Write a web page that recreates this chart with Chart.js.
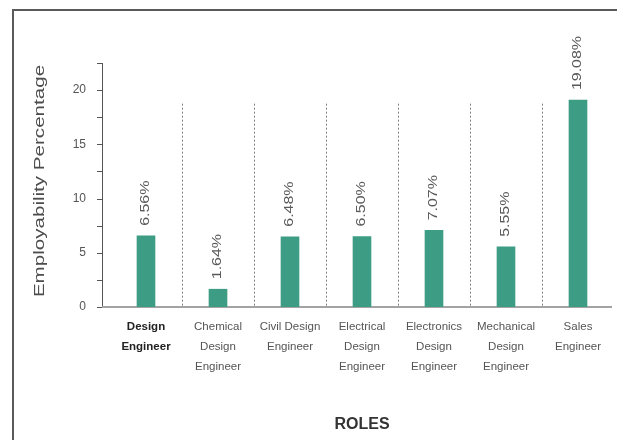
<!DOCTYPE html>
<html>
<head>
<meta charset="utf-8">
<title>Employability por rol</title>
<script src="https://cdn.jsdelivr.net/npm/chart.js@4.4.1/dist/chart.umd.min.js"></script>
<style>
    html, body { margin: 0; padding: 0; background: #fff; }
    #marco {
        position: absolute; left: 12px; top: 9px; width: 605px; height: 431px;
        border-left: 2px solid #5a5a5a; border-top: 2px solid #5a5a5a; box-sizing: border-box;
    }
    #grafico { position: absolute; left: 0; top: 0; }
</style>
</head>
<body>
<div id="marco"></div>
<canvas id="grafico" width="617" height="440"></canvas>
<script>
// datos del grafico
const roles = [
    ['Design', 'Engineer'],
    ['Chemical', 'Design', 'Engineer'],
    ['Civil Design', 'Engineer'],
    ['Electrical', 'Design', 'Engineer'],
    ['Electronics', 'Design', 'Engineer'],
    ['Mechanical', 'Design', 'Engineer'],
    ['Sales', 'Engineer']
];
const employability = [6.56, 1.64, 6.48, 6.50, 7.07, 5.55, 19.08];
const yTickLabels = [0, 5, 10, 15, 20];
const yMax = 22.5;
const yStep = 2.5;

const fuente = '"Liberation Sans", Arial, sans-serif';
const separadorTope = 18.75; // donde empiezan las lineas punteadas

// ejes, separadores y etiquetas giradas
const ejesPlugin = {
    id: 'ejes',
    beforeDatasetsDraw(chart) {
        const { ctx, chartArea, scales: { x, y } } = chart;
        const ejeX = chartArea.left - 8;
        const y0 = y.getPixelForValue(0);
        ctx.save();

        // separadores punteados entre categorias
        ctx.strokeStyle = '#808080';
        ctx.lineWidth = 1;
        ctx.setLineDash([2, 2]);
        for (let i = 1; i < roles.length; i++) {
            const px = Math.round((x.getPixelForValue(i - 1) + x.getPixelForValue(i)) / 2) + 0.5;
            ctx.beginPath();
            ctx.moveTo(px, y.getPixelForValue(separadorTope));
            ctx.lineTo(px, y0);
            ctx.stroke();
        }
        ctx.setLineDash([]);

        // eje y con marcas cada 2.5
        ctx.strokeStyle = '#555';
        ctx.beginPath();
        ctx.moveTo(ejeX + 0.5, chartArea.top);
        ctx.lineTo(ejeX + 0.5, y0);
        y.ticks.forEach(t => {
            const py = Math.round(y.getPixelForValue(t.value)) + 0.5;
            ctx.moveTo(ejeX - 5, py);
            ctx.lineTo(ejeX + 0.5, py);
        });
        ctx.stroke();

        // linea base
        ctx.strokeStyle = '#a3a3a3';
        ctx.lineWidth = 2;
        ctx.beginPath();
        ctx.moveTo(ejeX, y0);
        ctx.lineTo(chartArea.right - 2, y0);
        ctx.stroke();
        ctx.restore();
    },
    afterDatasetsDraw(chart) {
        const { ctx } = chart;
        const meta = chart.getDatasetMeta(0);
        ctx.save();
        ctx.fillStyle = '#5a5a5a';
        ctx.font = '12px ' + fuente;
        ctx.textAlign = 'left';
        ctx.textBaseline = 'middle';
        meta.data.forEach((bar, i) => {
            ctx.save();
            ctx.translate(bar.x, bar.y - 10);
            ctx.rotate(-Math.PI / 2);
            ctx.scale(1.33, 1);
            ctx.fillText(employability[i].toFixed(2) + '%', 0, 0);
            ctx.restore();
        });
        ctx.restore();
    },
    afterDraw(chart) {
        // titulo del eje y (estirado como en la imagen)
        const { ctx, chartArea } = chart;
        ctx.save();
        ctx.fillStyle = '#4d4d4d';
        ctx.font = '14px ' + fuente;
        ctx.textAlign = 'center';
        ctx.textBaseline = 'middle';
        ctx.translate(40, (chartArea.top + chartArea.bottom) / 2 - 4);
        ctx.rotate(-Math.PI / 2);
        ctx.scale(1.47, 1);
        ctx.fillText('Employability Percentage', 0, 0);
        ctx.restore();
    }
};

const canvas = document.getElementById('grafico');
window.graficoRoles = new Chart(canvas, {
    type: 'bar',
    data: {
        labels: roles,
        datasets: [{
            label: 'Employability Percentage',
            data: employability,
            backgroundColor: '#3c9c84',
            borderWidth: 0,
            barThickness: 18
        }]
    },
    options: {
        responsive: false,
        animation: false,
        layout: { padding: { left: 30, right: 3, top: 63, bottom: 6 } },
        plugins: {
            legend: { display: false },
            tooltip: { enabled: false }
        },
        scales: {
            x: {
                offset: true,
                grid: { display: false, drawTicks: false },
                border: { display: false },
                ticks: {
                    padding: 10,
                    autoSkip: false,
                    maxRotation: 0,
                    color: c => c.index === 0 ? '#222' : '#555',
                    font: c => ({
                        family: fuente,
                        size: 11.5,
                        weight: c.index === 0 ? 'bold' : 'normal',
                        lineHeight: 1.75
                    })
                },
                title: {
                    display: true,
                    text: 'ROLES',
                    color: '#333',
                    padding: 0,
                    font: { family: fuente, size: 16, weight: 'bold' }
                },
                afterFit: s => { s.height = 127; }
            },
            y: {
                min: 0,
                max: yMax,
                grid: { display: false, drawTicks: false },
                border: { display: false },
                ticks: {
                    stepSize: yStep,
                    padding: 24,
                    color: '#555',
                    font: { family: fuente, size: 12 },
                    callback: v => yTickLabels.includes(v) ? v : ''
                },
                afterFit: s => { s.width = 80; }
            }
        }
    },
    plugins: [ejesPlugin]
});
</script>
</body>
</html>
